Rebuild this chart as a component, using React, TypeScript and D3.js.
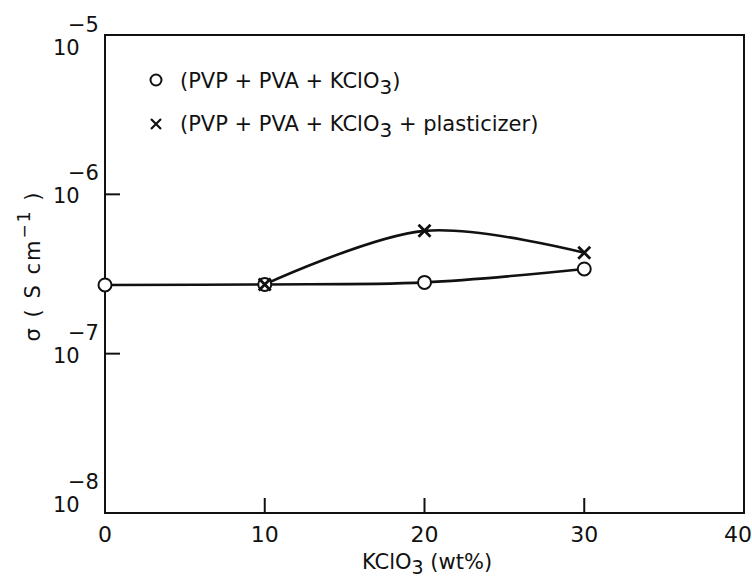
import * as d3 from "d3";
import { useEffect, useRef } from "react";

// KClO3 content (wt%) and conductivity (S/cm)
const xTicks = [0, 10, 20, 30, 40];
const yExponents = [-5, -6, -7, -8];
const kclo3Plain = [0, 10, 20, 30];
const sigmaPlain = [2.7e-7, 2.72e-7, 2.8e-7, 3.4e-7];
const kclo3Plast = [10, 20, 30];
const sigmaPlast = [2.72e-7, 5.9e-7, 4.3e-7];

const FONT = "'DejaVu Sans', Verdana, sans-serif";

const App = () => {
  const ref = useRef<HTMLDivElement>(null);

  useEffect(() => {
    document.body.style.margin = "0";
    draw();
  }, []);

  const draw = () => {
    const width = 752,
      height = 582;
    const plot = { left: 105, right: 744, top: 35, bottom: 513 };

    d3.select(ref.current).selectAll("*").remove();
    const svg = d3
      .select(ref.current)
      .append("svg")
      .attr("width", width)
      .attr("height", height)
      .style("display", "block")
      .style("background", "#fff");

    const x = d3.scaleLinear().domain([0, 40]).range([plot.left, plot.right]);
    const y = d3.scaleLog().domain([1e-8, 1e-5]).range([plot.bottom, plot.top]);

    // frame
    svg
      .append("rect")
      .attr("x", plot.left)
      .attr("y", plot.top)
      .attr("width", plot.right - plot.left)
      .attr("height", plot.bottom - plot.top)
      .attr("fill", "none")
      .attr("stroke", "#111")
      .attr("stroke-width", 2);

    // inward ticks on x (inner ones only)
    svg
      .selectAll(".xtick")
      .data(xTicks.slice(1, -1))
      .enter()
      .append("line")
      .attr("x1", (d) => x(d))
      .attr("x2", (d) => x(d))
      .attr("y1", plot.bottom)
      .attr("y2", plot.bottom - 15)
      .attr("stroke", "#111")
      .attr("stroke-width", 2);

    svg
      .selectAll(".xlab")
      .data(xTicks)
      .enter()
      .append("text")
      .attr("x", (d) => Math.min(x(d), width - 14))
      .attr("y", 542)
      .attr("text-anchor", "middle")
      .attr("font-family", FONT)
      .attr("font-size", 22)
      .attr("fill", "#111")
      .text((d) => d);

    // inward ticks on y
    svg
      .selectAll(".ytick")
      .data(yExponents.slice(1, -1))
      .enter()
      .append("line")
      .attr("x1", plot.left)
      .attr("x2", plot.left + 15)
      .attr("y1", (d) => y(Math.pow(10, d)))
      .attr("y2", (d) => y(Math.pow(10, d)))
      .attr("stroke", "#111")
      .attr("stroke-width", 2);

    const ylab = svg
      .selectAll(".ylab")
      .data(yExponents)
      .enter()
      .append("g")
      .attr("transform", (d) => {
        const base = Math.min(Math.max(y(Math.pow(10, d)) + 9, 55), 512);
        return `translate(0,${base})`;
      });
    ylab
      .append("text")
      .attr("x", 53)
      .attr("y", 0)
      .attr("font-family", FONT)
      .attr("font-size", 21)
      .attr("fill", "#111")
      .text("10");
    ylab
      .append("text")
      .attr("x", 68)
      .attr("y", -23)
      .attr("font-family", FONT)
      .attr("font-size", 21)
      .attr("fill", "#111")
      .text((d) => "\u2212" + Math.abs(d));

    // axis titles
    const xt = svg
      .append("text")
      .attr("x", 427)
      .attr("y", 569)
      .attr("text-anchor", "middle")
      .attr("font-family", FONT)
      .attr("font-size", 21)
      .attr("fill", "#111");
    xt.append("tspan").text("KClO");
    xt.append("tspan").attr("dy", 5).attr("font-size", 19).text("3");
    xt.append("tspan").attr("dy", -5).text(" (wt%)");

    const yt = svg
      .append("text")
      .attr("transform", "translate(40,266) rotate(-90)")
      .attr("text-anchor", "middle")
      .attr("font-family", FONT)
      .attr("font-size", 21)
      .attr("letter-spacing", 2)
      .attr("fill", "#111");
    yt.append("tspan").text("\u03c3  ( S cm");
    yt.append("tspan").attr("dy", -10).attr("font-size", 17).text("\u22121");
    yt.append("tspan").attr("dy", 10).text(" )");

    // curves
    const plainPts: [number, number][] = kclo3Plain.map((d, i) => [x(d), y(sigmaPlain[i])]);
    const plastPts: [number, number][] = kclo3Plast.map((d, i) => [x(d), y(sigmaPlast[i])]);
    const path = d3.line().curve(d3.curveCatmullRom.alpha(0.5));

    svg
      .append("path")
      .attr("d", path(plainPts))
      .attr("fill", "none")
      .attr("stroke", "#111")
      .attr("stroke-width", 2.6);
    svg
      .append("path")
      .attr("d", path(plastPts))
      .attr("fill", "none")
      .attr("stroke", "#111")
      .attr("stroke-width", 2.6);

    // markers
    const cross = (g: any, cx: number, cy: number, s: number, w: number) => {
      g.append("path")
        .attr("d", `M${cx - s},${cy - s}L${cx + s},${cy + s}M${cx - s},${cy + s}L${cx + s},${cy - s}`)
        .attr("stroke", "#111")
        .attr("stroke-width", w)
        .attr("fill", "none");
    };

    svg
      .selectAll(".pt")
      .data(plainPts)
      .enter()
      .append("circle")
      .attr("cx", (d) => d[0])
      .attr("cy", (d) => d[1])
      .attr("r", 6.5)
      .attr("fill", "#fff")
      .attr("stroke", "#111")
      .attr("stroke-width", 2);

    plastPts.forEach((p) => cross(svg, p[0], p[1], 6, 2.8));

    // legend
    svg
      .append("circle")
      .attr("cx", 156)
      .attr("cy", 80)
      .attr("r", 5.5)
      .attr("fill", "#fff")
      .attr("stroke", "#111")
      .attr("stroke-width", 2);
    cross(svg, 156, 124, 5, 2.2);

    const leg1 = svg
      .append("text")
      .attr("x", 180)
      .attr("y", 88)
      .attr("font-family", FONT)
      .attr("font-size", 21)
      .attr("fill", "#111");
    leg1.append("tspan").text("(PVP + PVA + KClO");
    leg1.append("tspan").attr("dy", 6).attr("font-size", 20).text("3");
    leg1.append("tspan").attr("dy", -6).text(")");

    const leg2 = svg
      .append("text")
      .attr("x", 180)
      .attr("y", 131)
      .attr("font-family", FONT)
      .attr("font-size", 21)
      .attr("fill", "#111");
    leg2.append("tspan").text("(PVP + PVA + KClO");
    leg2.append("tspan").attr("dy", 6).attr("font-size", 20).text("3");
    leg2.append("tspan").attr("dy", -6).text(" + plasticizer)");
  };

  return <div ref={ref}></div>;
};

export default App;
